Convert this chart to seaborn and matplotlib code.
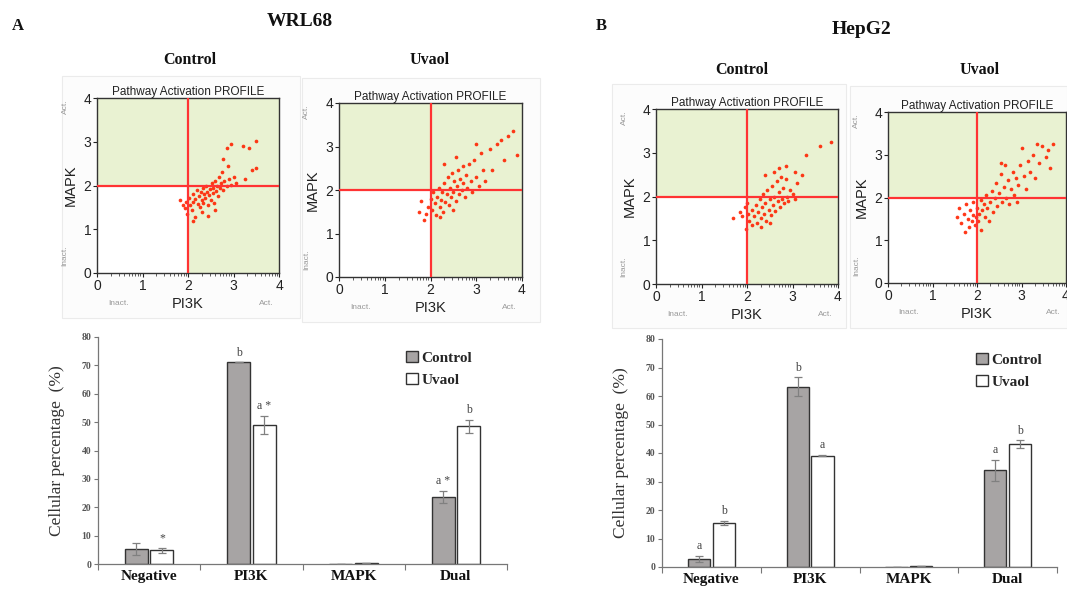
import matplotlib.pyplot as plt
import numpy as np
import pandas as pd
import seaborn as sns
from matplotlib.patches import Rectangle

# 1. Donnees
W, H = 1067, 589

CATEGORIES = ["Negative", "PI3K", "MAPK", "Dual"]
GROUPS = ["Control", "Uvaol"]

WRL68_CONTROL = [5.4, 71.1, 0.0, 23.6]
WRL68_CONTROL_ERR = [2.1, 0.0, 0.0, 2.2]
WRL68_UVAOL = [4.8, 49.0, 0.2, 48.5]
WRL68_UVAOL_ERR = [1.0, 3.3, 0.0, 2.3]
WRL68_CONTROL_MARKS = ["", "b", "", "a *"]
WRL68_UVAOL_MARKS = ["*", "a *", "", "b"]

HEPG2_CONTROL = [2.9, 63.2, 0.0, 33.9]
HEPG2_CONTROL_ERR = [1.0, 3.3, 0.0, 3.8]
HEPG2_UVAOL = [15.5, 39.1, 0.2, 43.2]
HEPG2_UVAOL_ERR = [0.7, 0.3, 0.0, 1.3]
HEPG2_CONTROL_MARKS = ["a", "b", "", "a"]
HEPG2_UVAOL_MARKS = ["b", "a", "", "b"]

WRL68_CONTROL_CELLS = [
    (1.82, 1.68), (1.88, 1.55), (1.93, 1.48), (1.96, 1.62), (1.98, 1.35), (2.02, 1.72),
    (2.05, 1.55), (2.08, 1.45), (2.1, 1.8), (2.12, 1.62), (2.15, 1.28), (2.16, 1.7),
    (2.2, 1.9), (2.22, 1.58), (2.24, 1.75), (2.26, 1.5), (2.28, 1.85), (2.3, 1.68),
    (2.32, 1.95), (2.34, 1.6), (2.36, 1.8), (2.38, 1.72), (2.4, 2.0), (2.42, 1.85),
    (2.44, 1.55), (2.46, 1.78), (2.48, 1.92), (2.5, 1.68), (2.52, 2.05), (2.54, 1.82),
    (2.56, 1.95), (2.58, 1.6), (2.6, 2.1), (2.62, 1.88), (2.64, 2.0), (2.66, 1.75),
    (2.68, 2.2), (2.7, 1.95), (2.72, 2.05), (2.75, 2.3), (2.78, 1.9), (2.8, 2.1),
    (2.85, 2.0), (2.88, 2.45), (2.9, 2.15), (2.95, 2.02), (3.0, 2.2), (3.05, 2.05),
    (2.78, 2.6), (2.85, 2.85), (2.95, 2.95), (3.2, 2.9), (3.35, 2.85), (3.5, 3.02),
    (3.25, 2.15), (3.4, 2.35), (3.5, 2.4), (2.1, 1.2), (2.45, 1.3), (2.3, 1.4), (2.6, 1.45),
]
WRL68_UVAOL_CELLS = [
    (1.75, 1.5), (1.8, 1.75), (1.85, 1.3), (1.9, 1.45), (1.95, 1.6), (2.0, 1.8),
    (2.03, 1.55), (2.06, 1.95), (2.1, 1.7), (2.12, 1.42), (2.15, 1.85), (2.18, 2.05),
    (2.2, 1.6), (2.22, 1.78), (2.25, 1.95), (2.28, 1.5), (2.3, 2.15), (2.32, 1.72),
    (2.35, 1.9), (2.38, 2.3), (2.4, 1.65), (2.42, 2.05), (2.45, 1.85), (2.48, 2.4),
    (2.5, 1.95), (2.52, 2.2), (2.55, 1.75), (2.58, 2.1), (2.6, 2.45), (2.62, 1.9),
    (2.65, 2.25), (2.68, 2.0), (2.7, 2.55), (2.72, 2.15), (2.75, 1.85), (2.78, 2.35),
    (2.8, 2.05), (2.85, 2.6), (2.88, 2.2), (2.9, 1.95), (2.95, 2.7), (3.0, 2.3),
    (3.05, 2.1), (3.1, 2.85), (3.15, 2.45), (3.2, 2.2), (3.3, 2.95), (3.35, 2.45),
    (3.45, 3.05), (3.55, 3.15), (3.6, 2.7), (3.7, 3.25), (3.8, 3.35), (3.9, 2.8),
    (2.3, 2.6), (2.55, 2.75), (2.2, 1.38), (2.5, 1.55), (3.0, 3.05),
]
HEPG2_CONTROL_CELLS = [
    (1.7, 1.5), (1.85, 1.65), (1.9, 1.55), (1.95, 1.75), (1.98, 1.25), (2.02, 1.6),
    (2.05, 1.45), (2.1, 1.7), (2.12, 1.35), (2.15, 1.55), (2.2, 1.8), (2.22, 1.4),
    (2.25, 1.65), (2.28, 1.95), (2.3, 1.5), (2.33, 1.75), (2.35, 2.05), (2.38, 1.6),
    (2.4, 1.85), (2.42, 1.45), (2.45, 2.15), (2.48, 1.7), (2.5, 1.95), (2.52, 1.58),
    (2.55, 2.25), (2.58, 1.8), (2.6, 2.0), (2.62, 1.68), (2.65, 2.35), (2.68, 1.9),
    (2.7, 2.1), (2.72, 1.75), (2.75, 2.45), (2.78, 1.95), (2.8, 2.2), (2.82, 1.85),
    (2.85, 2.4), (2.88, 2.0), (2.9, 1.9), (2.95, 2.15), (3.0, 2.05), (3.05, 1.95),
    (3.1, 2.3), (2.7, 2.65), (2.85, 2.7), (3.05, 2.55), (3.2, 2.5), (3.3, 2.95),
    (3.6, 3.15), (3.85, 3.25), (2.4, 2.5), (2.6, 2.55), (2.3, 1.3), (2.5, 1.4), (2.0, 1.85),
]
HEPG2_UVAOL_CELLS = [
    (1.55, 1.55), (1.6, 1.75), (1.65, 1.4), (1.7, 1.62), (1.72, 1.2), (1.75, 1.85),
    (1.8, 1.5), (1.82, 1.3), (1.85, 1.7), (1.88, 1.45), (1.9, 1.6), (1.92, 1.9),
    (1.95, 1.35), (1.97, 1.55), (2.0, 1.75), (2.03, 1.45), (2.05, 1.62), (2.08, 1.95),
    (2.1, 1.25), (2.12, 1.7), (2.15, 1.85), (2.18, 1.55), (2.2, 2.05), (2.23, 1.75),
    (2.26, 1.45), (2.3, 1.9), (2.33, 2.15), (2.36, 1.65), (2.4, 2.0), (2.43, 2.35),
    (2.46, 1.8), (2.5, 2.1), (2.53, 2.55), (2.56, 1.9), (2.6, 2.25), (2.63, 2.75),
    (2.66, 2.0), (2.7, 2.4), (2.73, 1.85), (2.76, 2.2), (2.8, 2.6), (2.84, 2.05),
    (2.88, 2.45), (2.92, 2.3), (2.96, 2.75), (3.0, 3.15), (3.05, 2.5), (3.1, 2.2),
    (3.15, 2.85), (3.2, 2.6), (3.25, 3.0), (3.3, 2.45), (3.35, 3.25), (3.4, 2.8),
    (3.45, 3.2), (3.55, 2.95), (3.6, 3.1), (3.65, 2.7), (3.7, 3.25), (2.55, 2.8), (2.9, 1.9),
]

# 2. Style
sns.set_theme(style="white")
plt.rcParams["font.family"] = ["Liberation Serif", "DejaVu Serif"]
SANS = ["Liberation Sans", "DejaVu Sans"]
SERIF = ["Liberation Serif", "DejaVu Serif"]
GREEN = "#e9f2d2"
RED = "#ff2200"
BAR_GRAY = "#a7a4a4"

fig = plt.figure(figsize=(W / 100, H / 100), dpi=100)


def px_rect(left, top, right, bottom):
    return [left / W, 1 - bottom / H, (right - left) / W, (bottom - top) / H]


def flow_panel(rect, cells, frame):
    fig.patches.append(Rectangle((frame[0] / W, 1 - frame[3] / H),
                                 (frame[2] - frame[0]) / W, (frame[3] - frame[1]) / H,
                                 transform=fig.transFigure, facecolor="#fcfcfc",
                                 edgecolor="#ebebeb", lw=0.8, zorder=-5))
    ax = fig.add_axes(rect)
    ax.patch.set_alpha(0)
    ax.add_patch(Rectangle((0, 0), 4, 4, facecolor=GREEN, edgecolor="none", zorder=0))
    ax.add_patch(Rectangle((0, 0), 2, 2, facecolor="white", edgecolor="none", zorder=0))
    df = pd.DataFrame(cells, columns=["PI3K", "MAPK"])
    sns.scatterplot(data=df, x="PI3K", y="MAPK", ax=ax, color=RED, s=7,
                    linewidth=0, alpha=0.9, zorder=3)
    ax.axvline(2, color="#ff3333", lw=1.6, zorder=4)
    ax.axhline(2, color="#ff3333", lw=1.6, zorder=4)
    ax.set_xlim(0, 4)
    ax.set_ylim(0, 4)
    ax.set_xticks(range(5))
    ax.set_yticks(range(5))
    minor = [d + np.log10(k) for d in range(4) for k in range(2, 10)]
    ax.set_xticks(minor, minor=True)
    ax.tick_params(axis="both", which="major", direction="out", length=3, width=0.8,
                   labelsize=10, colors="#222222", pad=1, bottom=True, left=True)
    ax.tick_params(axis="x", which="minor", direction="out", length=2, width=0.6,
                   bottom=True, colors="#444444")
    for lbl in ax.get_xticklabels() + ax.get_yticklabels():
        lbl.set_family(SANS)
    for sp in ax.spines.values():
        sp.set_color("#333333")
        sp.set_linewidth(1.0)
    ax.set_xlabel("PI3K", fontsize=10.5, family=SANS, color="#222222", labelpad=3)
    ax.set_ylabel("MAPK", fontsize=10.5, family=SANS, color="#222222", labelpad=4)
    ax.set_title("Pathway Activation PROFILE", fontsize=8.5, family=SANS,
                 color="#222222", pad=2)
    gray = "#9a9a9a"
    ax.text(0.06, -0.175, "Inact.", transform=ax.transAxes, fontsize=6, family=SANS,
            color=gray, va="center")
    ax.text(0.97, -0.175, "Act.", transform=ax.transAxes, fontsize=6, family=SANS,
            color=gray, va="center", ha="right")
    ax.text(-0.175, 0.95, "Act.", transform=ax.transAxes, fontsize=6, family=SANS,
            color=gray, rotation=90, va="center", ha="center")
    ax.text(-0.175, 0.1, "Inact.", transform=ax.transAxes, fontsize=6, family=SANS,
            color=gray, rotation=90, va="center", ha="center")
    return ax


def bar_panel(rect, control, control_err, uvaol, uvaol_err, marks_c, marks_u, leg_x):
    ax = fig.add_axes(rect)
    df = pd.DataFrame({
        "Pathway": CATEGORIES * 2,
        "Group": [GROUPS[0]] * 4 + [GROUPS[1]] * 4,
        "Value": control + uvaol,
    })
    sns.barplot(data=df, x="Pathway", y="Value", hue="Group", hue_order=GROUPS,
                palette={"Control": BAR_GRAY, "Uvaol": "white"}, width=0.5, gap=0.1,
                edgecolor="#333333", linewidth=1.0, errorbar=None, ax=ax)
    for cont, errs, marks in zip(ax.containers, [control_err, uvaol_err],
                                 [marks_c, marks_u]):
        xs = [b.get_x() + b.get_width() / 2 for b in cont]
        ys = [b.get_height() for b in cont]
        ax.errorbar(xs, ys, yerr=errs, fmt="none", ecolor="#808080", elinewidth=0.9,
                    capsize=3, capthick=0.9, zorder=5)
        for x, y, e, m in zip(xs, ys, errs, marks):
            if m:
                ax.text(x, y + e + 1.2, m, ha="center", va="bottom", fontsize=8.5,
                        family=SERIF, color="#444444")
    ax.set_xlim(-0.5, 3.5)
    ax.set_ylim(0, 80)
    ax.set_yticks(range(0, 81, 10))
    ax.set_xticks([-0.5, 0.5, 1.5, 2.5, 3.5], minor=True)
    ax.tick_params(axis="x", which="major", length=0, pad=4)
    ax.tick_params(axis="x", which="minor", direction="out", length=4, width=0.8,
                   bottom=True, color="#777777")
    ax.tick_params(axis="y", direction="out", length=3, width=0.8, left=True,
                   color="#777777", labelsize=7, labelcolor="#555555", pad=2)
    for lbl in ax.get_xticklabels():
        lbl.set_family(SERIF)
        lbl.set_fontweight("bold")
        lbl.set_fontsize(11)
        lbl.set_color("#111111")
    for lbl in ax.get_yticklabels():
        lbl.set_family(SERIF)
        lbl.set_fontweight("bold")
    sns.despine(ax=ax)
    for sp in ["left", "bottom"]:
        ax.spines[sp].set_color("#777777")
        ax.spines[sp].set_linewidth(0.9)
    ax.set_xlabel("")
    ax.set_ylabel("Cellular percentage  (%)", fontsize=12.5, family=SERIF,
                  color="#333333", labelpad=12)
    sns.move_legend(ax, "upper left", bbox_to_anchor=(leg_x, 1.0), title=None,
                    frameon=False, handlelength=0.8, handleheight=0.8,
                    handletextpad=0.2, labelspacing=0.5,
                    prop={"family": SERIF, "weight": "bold", "size": 11})
    return ax


# 3. Panneaux
flow_panel(px_rect(97, 98, 279, 273), WRL68_CONTROL_CELLS, (62, 76, 300, 318))
flow_panel(px_rect(339, 103, 522, 277), WRL68_UVAOL_CELLS, (302, 78, 540, 322))
flow_panel(px_rect(656, 109, 838, 284), HEPG2_CONTROL_CELLS, (612, 84, 846, 328))
flow_panel(px_rect(888, 112, 1066, 283), HEPG2_UVAOL_CELLS, (850, 86, 1067, 328))

bar_panel(px_rect(98, 337, 507, 564), WRL68_CONTROL, WRL68_CONTROL_ERR,
          WRL68_UVAOL, WRL68_UVAOL_ERR, WRL68_CONTROL_MARKS, WRL68_UVAOL_MARKS, 0.72)
bar_panel(px_rect(662, 339, 1057, 567), HEPG2_CONTROL, HEPG2_CONTROL_ERR,
          HEPG2_UVAOL, HEPG2_UVAOL_ERR, HEPG2_CONTROL_MARKS, HEPG2_UVAOL_MARKS, 0.76)

# 4. Titres
def fig_text(x, y, s, size, **kw):
    fig.text(x / W, 1 - y / H, s, fontsize=size, family=SERIF, fontweight="bold",
             ha="center", va="center", color="#111111", **kw)


fig_text(18, 26, "A", 12)
fig_text(601, 26, "B", 12)
fig_text(300, 22, "WRL68", 14)
fig_text(862, 30, "HepG2", 14)
fig_text(190, 60, "Control", 11.5)
fig_text(430, 60, "Uvaol", 11.5)
fig_text(742, 70, "Control", 11.5)
fig_text(980, 70, "Uvaol", 11.5)

fig.savefig("out.png", dpi=100)
